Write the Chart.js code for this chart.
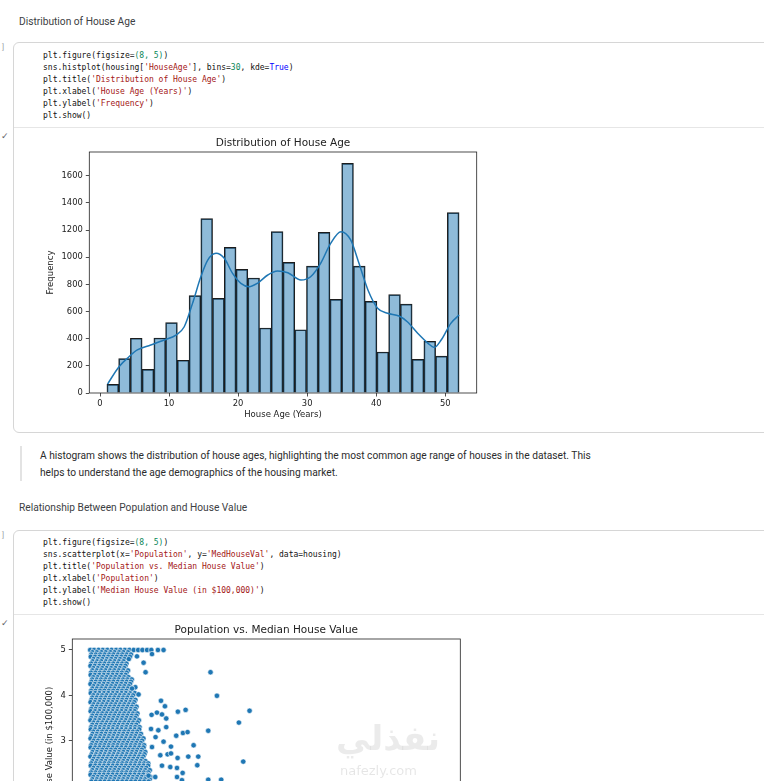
<!DOCTYPE html>
<html>
<head>
<meta charset="utf-8">
<script src="https://cdn.jsdelivr.net/npm/chart.js@4.4.1/dist/chart.umd.min.js"></script>
<style>
  html, body { margin: 0; padding: 0; background: #fff; }
  body { width: 764px; height: 781px; overflow: hidden; position: relative; font-family: Roboto, "Noto Sans", sans-serif; }
  .abs { position: absolute; }
  .head { font-size: 10.2px; line-height: 14px; color: #3c4043; white-space: nowrap; }
  .cell { border: 1px solid #d6d6d6; border-radius: 6px; width: 800px; background: #fff; }
  .divider { height: 1px; width: 800px; background: #e6e6e6; }
  pre.code { margin: 0; font-family: "DejaVu Sans Mono", "Liberation Mono", monospace; font-size: 8px; line-height: 12px; color: #111; }
  .s { color: #a31515; }
  .n { color: #098658; }
  .k { color: #0000ff; }
  .mark { font-size: 8px; color: #9aa0a6; }
  .check { font-size: 9px; color: #5f6368; }
  .para { font-size: 10.2px; line-height: 17px; color: #2b2b2b; white-space: nowrap; }
  .quote { width: 2px; background: #e3e3e3; }
</style>
</head>
<body>

<div class="abs head" style="left:19px; top:14.5px;">Distribution of House Age</div>
<div class="abs mark" style="left:2px; top:43px;">]</div>
<div class="abs cell" style="left:13px; top:42px; height:389px;"></div>
<pre class="abs code" style="left:43px; top:49.5px;">plt.figure(figsize=<span class="n">(8, 5)</span>)
sns.histplot(housing[<span class="s">'HouseAge'</span>], bins=<span class="n">30</span>, kde=<span class="k">True</span>)
plt.title(<span class="s">'Distribution of House Age'</span>)
plt.xlabel(<span class="s">'House Age (Years)'</span>)
plt.ylabel(<span class="s">'Frequency'</span>)
plt.show()</pre>
<div class="abs divider" style="left:14px; top:127px;"></div>
<div class="abs check" style="left:1px; top:131px;">✓</div>
<canvas id="histChart" class="abs" style="left:40px; top:132px;" width="450" height="295"></canvas>

<div class="abs quote" style="left:20px; top:446px; height:35px;"></div>
<div class="abs para" style="left:40px; top:446.5px;">A histogram shows the distribution of house ages, highlighting the most common age range of houses in the dataset. This<br>helps to understand the age demographics of the housing market.</div>

<div class="abs head" style="left:19px; top:501px;">Relationship Between Population and House Value</div>
<div class="abs mark" style="left:2px; top:531px;">]</div>
<div class="abs cell" style="left:13px; top:530px; height:400px;"></div>
<pre class="abs code" style="left:43px; top:536.5px;">plt.figure(figsize=<span class="n">(8, 5)</span>)
sns.scatterplot(x=<span class="s">'Population'</span>, y=<span class="s">'MedHouseVal'</span>, data=housing)
plt.title(<span class="s">'Population vs. Median House Value'</span>)
plt.xlabel(<span class="s">'Population'</span>)
plt.ylabel(<span class="s">'Median House Value (in $100,000)'</span>)
plt.show()</pre>
<div class="abs divider" style="left:14px; top:614px;"></div>
<div class="abs check" style="left:1px; top:618px;">✓</div>
<canvas id="scatterChart" class="abs" style="left:40px; top:619px;" width="434" height="296"></canvas>

<div class="abs" style="left:336px; top:718px; font-family:'DejaVu Sans'; font-weight:bold; font-size:34px; color:rgba(0,0,0,0.08); white-space:nowrap;">نفذلي</div>
<div class="abs" style="left:340px; top:763px; font-family:'DejaVu Sans'; font-size:13px; color:rgba(0,0,0,0.10); white-space:nowrap;">nafezly.com</div>

<script>
// histograma: 30 bins de 1.7 años entre 1 y 52
const ageBinCenters = [1.85, 3.55, 5.25, 6.95, 8.65, 10.35, 12.05, 13.75, 15.45, 17.15,
  18.85, 20.55, 22.25, 23.95, 25.65, 27.35, 29.05, 30.75, 32.45, 34.15,
  35.85, 37.55, 39.25, 40.95, 42.65, 44.35, 46.05, 47.75, 49.45, 51.15];
const ageCounts = [64, 253, 403, 174, 405, 518, 241, 717, 1284, 697,
  1073, 911, 847, 479, 1188, 962, 466, 935, 1183, 690,
  1691, 935, 675, 302, 724, 655, 248, 381, 272, 1328];

// curva kde
const kdeAges = [1.1, 2.75, 4.2, 5.4, 7.35, 9.3, 11.0, 12.2, 13.4, 14.6, 15.6, 16.8, 18.0, 19.2,
  20.4, 21.6, 22.8, 24.3, 25.7, 27.2, 29.1, 30.5, 31.95, 33.4, 34.9, 36.3, 37.5, 38.8,
  40.2, 41.65, 43.3, 44.5, 46.0, 47.5, 48.4, 49.4, 50.8, 52.0];
const kdeValues = [66, 194, 267, 317, 353, 390, 427, 488, 660, 856, 979, 1029, 992, 881,
  808, 783, 808, 869, 898, 886, 832, 856, 955, 1102, 1188, 1127, 955, 759,
  624, 587, 567, 525, 440, 366, 336, 390, 513, 574];

const histXTicks = [0, 10, 20, 30, 40, 50];
const histYTicks = [0, 200, 400, 600, 800, 1000, 1200, 1400, 1600];

// dispersión: filas densas (valor de la casa -> poblaciones)
const denseValues = [5.0, 4.95, 4.9, 4.85, 4.8, 4.75, 4.7, 4.65, 4.6, 4.55, 4.5, 4.45, 4.4, 4.35,
  4.3, 4.25, 4.2, 4.15, 4.1, 4.05, 4.0, 3.95, 3.9, 3.85, 3.8, 3.75, 3.7, 3.65, 3.6, 3.55,
  3.5, 3.45, 3.4, 3.35, 3.3, 3.25, 3.2, 3.15, 3.1, 3.05, 3.0, 2.95, 2.9, 2.85, 2.8, 2.75,
  2.7, 2.65, 2.6, 2.55, 2.5, 2.45, 2.4, 2.35, 2.3, 2.25, 2.2, 2.15, 2.1,
  1.9, 1.6, 1.3, 1.0, 0.7, 0.4];
const densePops = [
  [30, 420, 880, 1310, 1760, 2200, 2650, 3080, 3540, 3990, 4430, 4880, 5310, 5780],
  [260, 700, 1180, 1600, 2080, 2500, 2960, 3390, 3850],
  [150, 600, 1040, 1490, 1950, 2380, 2840, 3270, 3720, 4150],
  [90, 520, 980, 1390, 1850, 2290, 2720, 3190, 3610, 4050],
  [380, 820, 1270, 1720, 2160, 2610, 3050, 3500, 3930],
  [280, 730, 1150, 1620, 2040, 2500, 2930, 3400],
  [140, 590, 1030, 1480, 1930, 2370, 2820, 3260, 3690],
  [60, 500, 960, 1380, 1840, 2270, 2720, 3150, 3590],
  [360, 810, 1250, 1700, 2150, 2590, 3030, 3480],
  [250, 690, 1140, 1580, 2030, 2470, 2920, 3380, 3850],
  [120, 570, 1020, 1460, 1910, 2350, 2800, 3240, 3710],
  [80, 510, 950, 1410, 1840, 2300, 2730, 3180, 3620],
  [340, 790, 1230, 1690, 2130, 2580, 3010, 3470, 3900],
  [230, 700, 1120, 1580, 2010, 2470, 2900, 3360, 3800, 4230],
  [160, 600, 1050, 1490, 1940, 2380, 2830, 3270, 3720, 4150],
  [60, 520, 950, 1400, 1830, 2290, 2720, 3170, 3620, 4060],
  [370, 820, 1260, 1710, 2150, 2600, 3040, 3490, 3930],
  [260, 700, 1160, 1590, 2050, 2480, 2940, 3380, 3830, 4420],
  [130, 580, 1030, 1470, 1920, 2360, 2810, 3250, 3700, 4140],
  [90, 540, 970, 1430, 1860, 2320, 2750, 3210, 3640, 4100, 4540],
  [350, 800, 1240, 1690, 2140, 2580, 3030, 3470, 3920, 4360],
  [240, 690, 1130, 1580, 2020, 2470, 2910, 3360, 3800, 4250],
  [150, 600, 1040, 1490, 1930, 2380, 2820, 3270, 3710, 4160, 4600],
  [70, 510, 960, 1400, 1850, 2290, 2740, 3180, 3630, 4070, 4480],
  [370, 810, 1260, 1700, 2150, 2590, 3040, 3480, 3930, 4370],
  [260, 700, 1150, 1590, 2040, 2480, 2930, 3370, 3820, 4260, 4710],
  [140, 590, 1030, 1480, 1920, 2370, 2810, 3260, 3700, 4150, 4600],
  [80, 530, 970, 1420, 1860, 2310, 2750, 3200, 3640, 4090, 4530],
  [360, 800, 1250, 1690, 2140, 2580, 3030, 3470, 3920, 4360, 4800],
  [250, 690, 1140, 1580, 2030, 2470, 2920, 3360, 3810, 4250, 4700],
  [150, 600, 1040, 1490, 1930, 2380, 2820, 3270, 3710, 4160, 4610],
  [60, 510, 950, 1400, 1840, 2290, 2730, 3180, 3620, 4070, 4510, 4950],
  [370, 810, 1260, 1700, 2150, 2590, 3040, 3480, 3930, 4370, 4820],
  [240, 690, 1130, 1580, 2020, 2470, 2910, 3360, 3800, 4250, 4690],
  [130, 580, 1020, 1470, 1910, 2360, 2800, 3250, 3690, 4140, 4580, 5020],
  [90, 530, 980, 1420, 1870, 2310, 2760, 3200, 3650, 4090, 4540, 4980],
  [350, 800, 1240, 1690, 2130, 2580, 3020, 3470, 3910, 4360, 4800],
  [270, 710, 1160, 1600, 2050, 2490, 2940, 3380, 3830, 4270, 4720, 5160],
  [160, 610, 1050, 1500, 1940, 2390, 2830, 3280, 3720, 4170, 4610, 5060],
  [70, 520, 960, 1410, 1850, 2300, 2740, 3190, 3630, 4080, 4520, 4970, 5410],
  [380, 820, 1270, 1710, 2160, 2600, 3050, 3490, 3940, 4380, 4830, 5270],
  [250, 700, 1140, 1590, 2030, 2480, 2920, 3370, 3810, 4260, 4700, 5150],
  [140, 590, 1030, 1480, 1920, 2370, 2810, 3260, 3700, 4150, 4590, 5040, 5480],
  [80, 530, 970, 1420, 1860, 2310, 2750, 3200, 3640, 4090, 4530, 4980, 5420],
  [360, 810, 1250, 1700, 2140, 2590, 3030, 3480, 3920, 4370, 4810, 5260],
  [270, 720, 1160, 1610, 2050, 2500, 2940, 3390, 3830, 4280, 4720, 5170, 5600],
  [170, 620, 1060, 1510, 1950, 2400, 2840, 3290, 3730, 4180, 4620, 5070, 5510],
  [60, 510, 950, 1400, 1840, 2290, 2730, 3180, 3620, 4070, 4510, 4960, 5400],
  [390, 830, 1280, 1720, 2170, 2610, 3060, 3500, 3950, 4390, 4840, 5280],
  [260, 710, 1150, 1600, 2040, 2490, 2930, 3380, 3820, 4270, 4710, 5160, 5620],
  [150, 600, 1040, 1490, 1930, 2380, 2820, 3270, 3710, 4160, 4600, 5050, 5490, 5900],
  [90, 540, 980, 1430, 1870, 2320, 2760, 3210, 3650, 4100, 4540, 4990, 5430, 5880],
  [370, 810, 1260, 1700, 2150, 2590, 3040, 3480, 3930, 4370, 4820, 5260, 5700],
  [250, 700, 1140, 1590, 2030, 2480, 2920, 3370, 3810, 4260, 4700, 5150, 5600, 6050],
  [130, 580, 1020, 1470, 1910, 2360, 2800, 3250, 3690, 4140, 4580, 5030, 5470, 5910],
  [70, 520, 960, 1410, 1850, 2300, 2740, 3190, 3630, 4080, 4520, 4970, 5410, 5850],
  [350, 800, 1240, 1690, 2130, 2580, 3020, 3470, 3910, 4360, 4800, 5250, 5690, 6130],
  [260, 710, 1150, 1600, 2040, 2490, 2930, 3380, 3820, 4270, 4710, 5160, 5600, 6040],
  [160, 610, 1050, 1500, 1940, 2390, 2830, 3280, 3720, 4170, 4610, 5060, 5500, 5940],
  [300, 900, 1500, 2100, 2800, 3500, 4300, 5200, 6400],
  [200, 800, 1400, 2000, 2700, 3400, 4200, 5100, 6300, 8100],
  [300, 900, 1500, 2200, 2900, 3700, 4600, 5600, 7000],
  [200, 800, 1400, 2100, 2800, 3600, 4500, 5500, 6900],
  [300, 900, 1600, 2300, 3100, 4000, 5200],
  [400, 1100, 1900, 2800, 3900]
];

// puntos sueltos fuera de la zona densa
const outlierPops = [6210, 6880, 7450, 6280, 5430, 5630, 12200, 12850, 16150, 15070, 11970, 15510,
  11970, 13280, 7190, 7590, 8900, 9680, 6240, 6780, 7290, 7720, 6180, 6920, 7720, 8730, 9410,
  9880, 10490, 10960, 9950, 10860, 8870, 8200, 7450, 6640, 6280, 7120, 7860, 8130, 8810, 7290,
  5930, 6610, 8810, 9380, 9310, 4760, 4590, 4920, 4260, 8200,
  35682, 28566, 25187, 19800];
const outlierValues = [5.0, 5.0, 5.0, 4.91, 4.72, 4.51, 4.51, 3.99, 3.66, 3.40, 3.22, 2.54,
  2.14, 2.14, 3.88, 3.76, 3.64, 3.68, 3.57, 3.62, 3.58, 3.49, 3.26, 3.23, 3.30, 3.11, 3.17,
  3.19, 2.90, 2.65, 2.65, 2.46, 2.62, 2.87, 2.98, 3.08, 2.86, 2.68, 2.70, 2.42, 2.40, 2.45,
  2.23, 2.20, 2.20, 2.29, 2.13, 4.86, 4.18, 4.02, 4.15, 2.72,
  1.34, 1.18, 1.56, 1.75];

const popXTicks = [0, 5000, 10000, 15000, 20000, 25000, 30000, 35000];
const valueYTicks = [0, 1, 2, 3, 4, 5];

// marco completo alrededor del área del gráfico (estilo matplotlib)
const framePlugin = {
    id: 'frame',
    afterDatasetsDraw(chart) {
        const { ctx, chartArea: a } = chart;
        ctx.save();
        ctx.strokeStyle = '#222';
        ctx.lineWidth = 0.8;
        ctx.strokeRect(a.left, a.top, a.right - a.left, a.bottom - a.top);
        ctx.restore();
    }
};

// centra el título sobre los ejes, no sobre todo el canvas
const titleOverAxes = {
    id: 'titleOverAxes',
    afterLayout(chart) {
        const t = chart.titleBlock;
        if (t) {
            t.left = chart.chartArea.left;
            t.right = chart.chartArea.right;
            t.width = t.right - t.left;
        }
    }
};

const mplFont = 'DejaVu Sans';
const tickFont = { family: mplFont, size: 8.4 };
const axisGrid = { display: true, drawOnChartArea: false, drawTicks: true, tickLength: 3.5, color: '#222', lineWidth: 0.8 };

function ticksFrom(list) {
    return scale => { scale.ticks = list.map(v => ({ value: v })); };
}

// histograma
new Chart(document.getElementById('histChart'), {
    type: 'bar',
    data: {
        datasets: [{
            type: 'line',
            data: kdeAges.map((a, i) => ({ x: a, y: kdeValues[i] })),
            borderColor: '#1f77b4',
            borderWidth: 1.5,
            pointRadius: 0,
            cubicInterpolationMode: 'monotone',
            order: 0
        }, {
            type: 'bar',
            data: ageBinCenters.map((c, i) => ({ x: c, y: ageCounts[i] })),
            backgroundColor: 'rgba(31,119,180,0.5)',
            borderColor: '#1c1c1c',
            borderWidth: 1,
            barPercentage: 1,
            categoryPercentage: 1,
            order: 1
        }]
    },
    options: {
        responsive: false,
        animation: false,
        events: [],
        layout: { padding: { left: 0, right: 13.3, top: 0, bottom: 0 } },
        plugins: {
            legend: { display: false },
            tooltip: { enabled: false },
            title: {
                display: true,
                text: 'Distribution of House Age',
                color: '#222',
                font: { family: mplFont, size: 10.5, weight: 'normal' },
                padding: { top: 4.7, bottom: 2.7 }
            }
        },
        scales: {
            x: {
                type: 'linear',
                min: -1.55,
                max: 54.55,
                offset: false,
                grid: Object.assign({ offset: false }, axisGrid),
                border: { display: false },
                afterBuildTicks: ticksFrom(histXTicks),
                afterFit: s => { s.height = 34; },
                ticks: { font: tickFont, color: '#222', padding: 2, maxRotation: 0, callback: v => String(v) },
                title: { display: true, text: 'House Age (Years)', color: '#222', font: { family: mplFont, size: 8.5 }, padding: { top: 0, bottom: 7.4 } }
            },
            y: {
                min: 0,
                max: 1775,
                grid: axisGrid,
                border: { display: false },
                afterBuildTicks: ticksFrom(histYTicks),
                afterFit: s => { s.width = 49.3; },
                ticks: { font: tickFont, color: '#222', padding: 3, callback: v => String(v) },
                title: { display: true, text: 'Frequency', color: '#222', font: { family: mplFont, size: 8.5 }, padding: { top: 5.9, bottom: 0 } }
            }
        }
    },
    plugins: [framePlugin, titleOverAxes]
});

// dispersión
const scatterPoints = denseValues.flatMap((v, i) => densePops[i].map(p => ({ x: p, y: v })))
    .concat(outlierPops.map((p, i) => ({ x: p, y: outlierValues[i] })));

new Chart(document.getElementById('scatterChart'), {
    type: 'scatter',
    data: {
        datasets: [{
            data: scatterPoints,
            pointBackgroundColor: '#1f77b4',
            pointBorderColor: '#ffffff',
            pointBorderWidth: 0.6,
            pointRadius: 2.7
        }]
    },
    options: {
        responsive: false,
        animation: false,
        events: [],
        layout: { padding: { left: 0, right: 13.7, top: 0, bottom: 0 } },
        plugins: {
            legend: { display: false },
            tooltip: { enabled: false },
            title: {
                display: true,
                text: 'Population vs. Median House Value',
                color: '#222',
                font: { family: mplFont, size: 10.5, weight: 'normal' },
                padding: { top: 4.7, bottom: 2.7 }
            }
        },
        scales: {
            x: {
                type: 'linear',
                min: -1781,
                max: 37466,
                grid: axisGrid,
                border: { display: false },
                afterBuildTicks: ticksFrom(popXTicks),
                afterFit: s => { s.height = 34; },
                ticks: { font: tickFont, color: '#222', padding: 2, maxRotation: 0, callback: v => String(v) },
                title: { display: true, text: 'Population', color: '#222', font: { family: mplFont, size: 8.5 }, padding: { top: 0, bottom: 7.4 } }
            },
            y: {
                min: -0.0925,
                max: 5.2425,
                grid: axisGrid,
                border: { display: false },
                afterBuildTicks: ticksFrom(valueYTicks),
                afterFit: s => { s.width = 32.3; },
                ticks: { font: tickFont, color: '#222', padding: 3, callback: v => String(v) },
                title: { display: true, text: 'Median House Value (in $100,000)', color: '#222', font: { family: mplFont, size: 8.5 }, padding: { top: 4.9, bottom: 0 } }
            }
        }
    },
    plugins: [framePlugin, titleOverAxes]
});
</script>
</body>
</html>
